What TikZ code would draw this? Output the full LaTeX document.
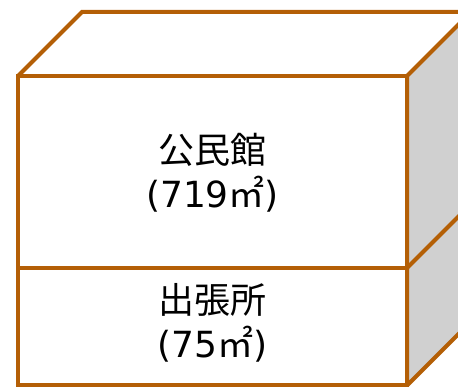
\documentclass[tikz,border=0pt]{standalone}
\usepackage{fontspec}
\setmainfont{DejaVu Sans}
\newfontfamily\jpfont{Noto Sans CJK JP}
\definecolor{wallline}{RGB}{180,95,6}
\definecolor{sidegray}{RGB}{208,208,208}

\begin{document}
\begin{tikzpicture}[x=1pt,y=1pt,
  wall/.style={draw=wallline, line width=4pt},
  floorlabel/.style={font=\fontsize{36}{44}\selectfont, align=center}]
  \useasboundingbox (0,0) rectangle (458,387);
  \clip (0,0) rectangle (458,387);

  % Draw the side face
  \filldraw[wall, fill=sidegray] (407,1.5) -- (471,65.5) -- (471,375) -- (407,311) -- cycle;
  \draw[wall] (407,119) -- (471,183);

  % Draw the top face
  \draw[wall] (18,311) -- (82,375) -- (471,375);

  % Draw the two floors
  \draw[wall] (18,1.5) rectangle (407,311);
  \draw[wall] (18,119) -- (407,119);

  \node[floorlabel] (hall) at (212.5,214) {{\jpfont 公民館}\\(719{\jpfont ㎡})};
  \node[floorlabel] (office) at (212.5,64) {{\jpfont 出張所}\\(75{\jpfont ㎡})};
\end{tikzpicture}
\end{document}
